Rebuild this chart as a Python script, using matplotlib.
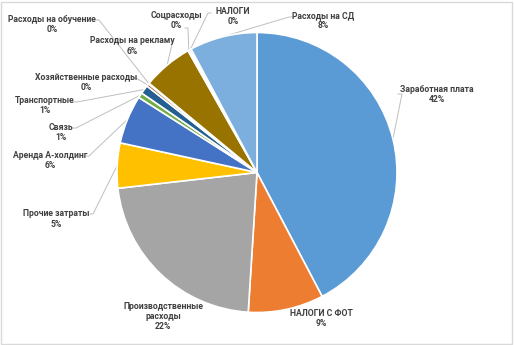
import matplotlib
matplotlib.use("Agg")
import matplotlib.pyplot as plt
import numpy as np
from matplotlib.patches import Rectangle

# ---- data ----
categories = ["Заработная плата", "НАЛОГИ С ФОТ", "Производственные\nрасходы",
              "Прочие затраты", "Аренда А-холдинг", "Связь", "Транспортные",
              "Хозяйственные расходы", "Расходы на обучение", "Расходы на рекламу",
              "Соцрасходы", "НАЛОГИ", "Расходы на СД"]
values = [42.3, 8.7, 22.2, 5.2, 5.6, 0.6, 1.0, 0.3, 0.1, 5.8, 0.2, 0.2, 7.8]
colors = ["#5B9BD5", "#ED7D31", "#A5A5A5", "#FFC000", "#4472C4", "#70AD47",
          "#255E91", "#9E480E", "#636363", "#997300", "#264478", "#43682B", "#7CAFDD"]

# ---- layout (pixel coords, y from top) ----
W, H = 514, 345
CX, CY, R = 257, 172.5, 140
label_pos = [(437, 94.5), (321, 318.5), (163, 316.5), (56, 219), (50, 160.5),
             (61, 132.5), (45, 105.5), (86, 82.5), (52, 24.5), (132, 46),
             (176, 20.5), (233, 16.5), (323, 20.5)]
# label-side leader anchor (None = no leader); elbow stub end
leader_anchor = [((398, 94), (402, 94)), None, None,
                 ((90, 214), (93, 214)), ((86, 156), (89, 156)),
                 ((73, 128), (76, 128)), ((73, 102), (77, 102)),
                 ((133, 78), (136, 78)), ((96, 20), (99, 20)),
                 ((172, 42), (172, 44)), ((185, 28), (188, 28)),
                 ((211, 13), (208, 13)), ((292, 17), (289, 17))]

fig = plt.figure(figsize=(W / 100, H / 100), dpi=100)
ax = fig.add_axes([0, 0, 1, 1])
ax.set_xlim(0, W)
ax.set_ylim(0, H)
ax.set_aspect("equal")
ax.axis("off")

wedges, _ = ax.pie(values, colors=colors, startangle=90, counterclock=False,
                   center=(CX, H - CY), radius=R,
                   wedgeprops=dict(edgecolor="white", linewidth=1.2))
ax.set_xlim(0, W)
ax.set_ylim(0, H)

total = sum(values)
for i, (w, cat, v) in enumerate(zip(wedges, categories, values)):
    x, y = label_pos[i]
    ax.text(x, H - y, f"{cat}\n{v / total * 100:.0f}%", ha="center", va="center",
            fontsize=6.2, color="#404040", family="Roboto", weight="bold",
            linespacing=1.2)
    if leader_anchor[i] is not None:
        mid = np.deg2rad((w.theta1 + w.theta2) / 2)
        px = CX + R * np.cos(mid)
        py = (H - CY) + R * np.sin(mid)
        (ax1, ay1), (ax2, ay2) = leader_anchor[i]
        ax.plot([px, ax2, ax1], [py, H - ay2, H - ay1], color="#BFBFBF", lw=0.7,
                zorder=0.5)

fig.patches.append(Rectangle((0.5 / W, 1.5 / H), (W - 3) / W, (H - 3) / H,
                             transform=fig.transFigure, fill=False,
                             edgecolor="#D9D9D9", lw=1.0))
fig.savefig("out.png", dpi=100)
